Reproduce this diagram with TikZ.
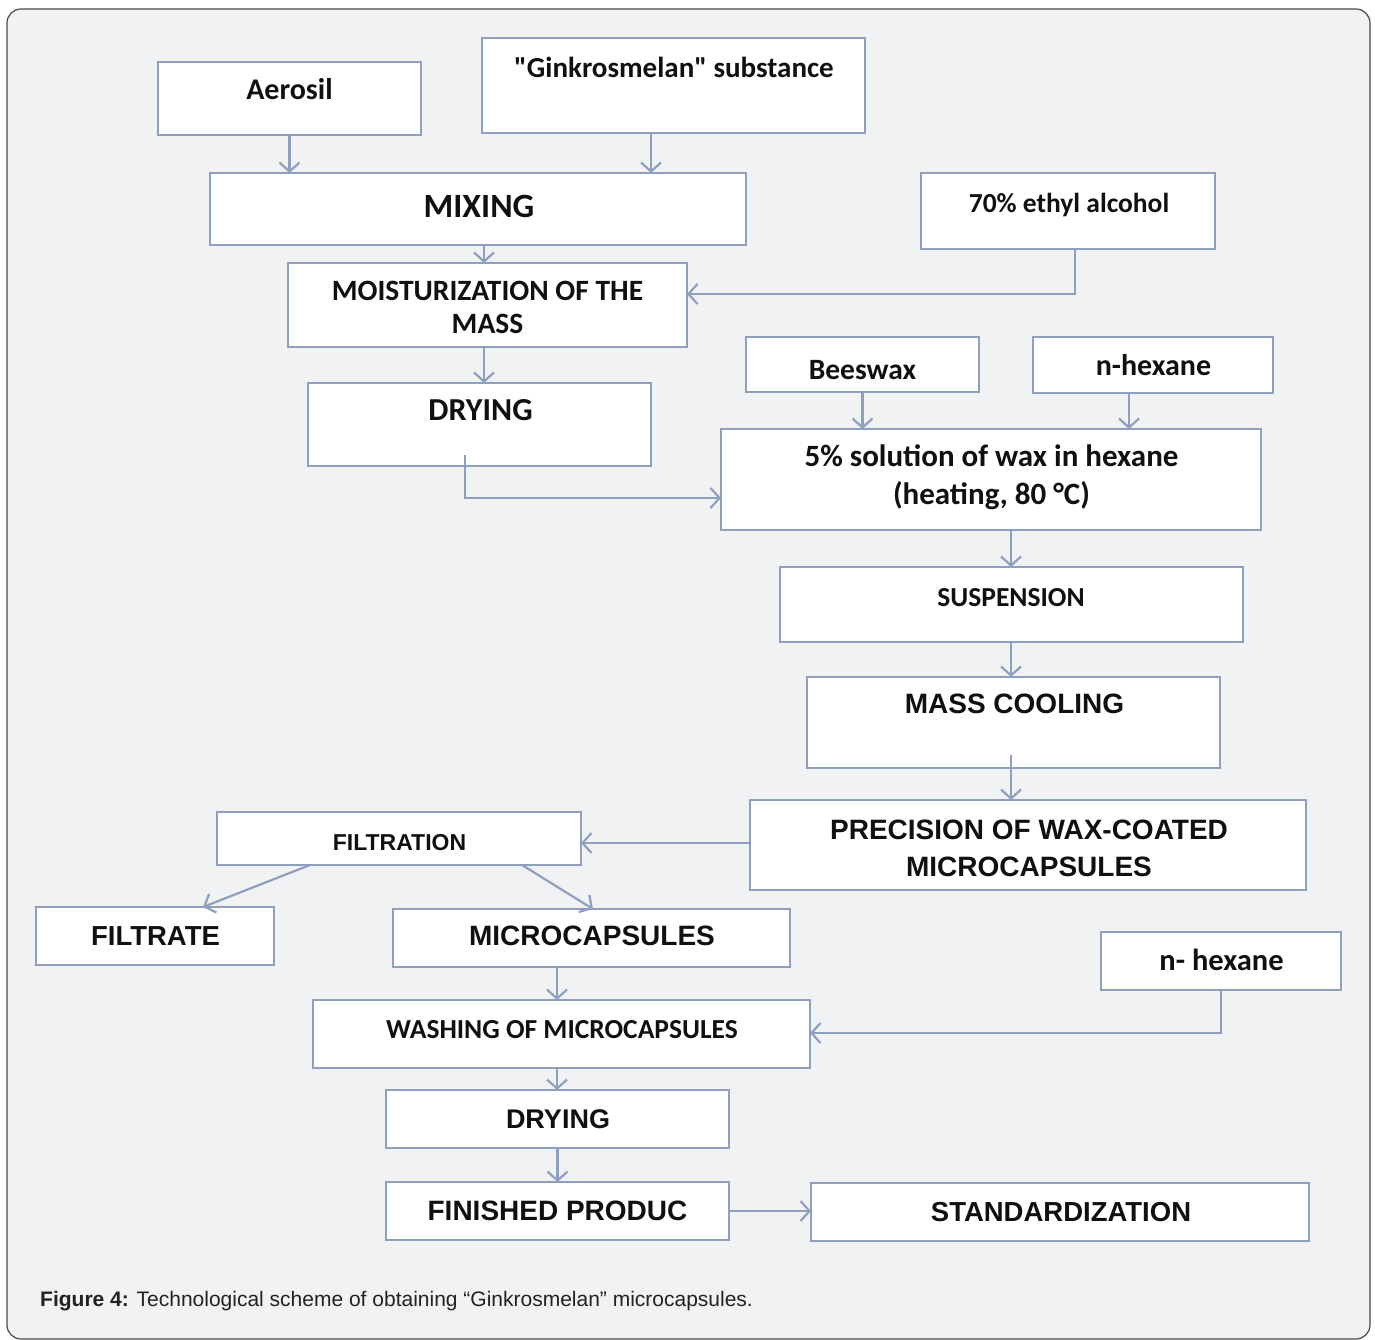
\documentclass[tikz,border=0pt]{standalone}
\usepackage{fontspec}
\setmainfont{Carlito}[Ligatures=TeXOff]
\newfontfamily\arialf{Liberation Sans}
\usetikzlibrary{arrows.meta,fit}
\definecolor{bcol}{HTML}{8FA0BF}
\definecolor{bgcol}{HTML}{F1F2F4}
\definecolor{framecol}{HTML}{4A4A4A}
\definecolor{txtcol}{HTML}{101010}
\definecolor{capcol}{HTML}{222222}
\newcommand\cf[1]{\fontsize{#1}{#1}\selectfont\bfseries}
\newcommand\af[1]{\arialf\fontsize{#1}{#1}\selectfont\bfseries}
\tikzset{
  box/.style={draw=bcol, line width=2.2pt, fill=white, inner sep=0pt, outer sep=0pt},
  arr/.style={draw=bcol, line width=2.2pt, -{Straight Barb[length=9pt,width=20pt,line width=2.2pt]}},
  tx/.style={anchor=base, inner sep=0pt, text=txtcol, align=center},
}
\begin{document}
\begin{tikzpicture}[x=1pt,y=-1pt]
\useasboundingbox (0,0) rectangle (1375,1340);
\fill[white] (0,0) rectangle (1375,1340);
\draw[framecol, line width=1.2pt, fill=bgcol, rounded corners=14pt] (7,9) rectangle (1370,1339);

% boxes
\node[box, fit={(158,62) (421,135)}] (aer) {};
\node[box, fit={(482,38) (865,133)}] (gink) {};
\node[box, fit={(210,173) (746,245)}] (mix) {};
\node[box, fit={(921,173) (1215,249)}] (alc) {};
\node[box, fit={(288,263) (687,347)}] (moist) {};
\node[box, fit={(308,383) (651,466)}] (dry1) {};
\node[box, fit={(746,337) (979,392)}] (bees) {};
\node[box, fit={(1033,337) (1273,393)}] (hex1) {};
\node[box, fit={(721,429) (1261,530)}] (sol) {};
\node[box, fit={(780,567) (1243,642)}] (susp) {};
\node[box, fit={(807,677) (1220,768)}] (cool) {};
\node[box, fit={(750,800) (1306,890)}] (prec) {};
\node[box, fit={(217,812) (581,865)}] (filt) {};
\node[box, fit={(36,907) (274,965)}] (filtr) {};
\node[box, fit={(393,909) (790,967)}] (micro) {};
\node[box, fit={(1101,932) (1341,990)}] (hex2) {};
\node[box, fit={(313,1000) (810,1068)}] (wash) {};
\node[box, fit={(386,1090) (729,1148)}] (dry2) {};
\node[box, fit={(386,1182) (729,1240)}] (fin) {};
\node[box, fit={(811,1183) (1309,1241)}] (std) {};

% texts
\node[tx, font=\cf{30}] (aer-t) at (289.5,100) {Aerosil};
\node[tx, font=\cf{29}] (gink-t) at (674,78) {"Ginkrosmelan" substance};
\node[tx, font=\cf{34}] (mix-t) at (479,218) {MIXING};
\node[tx, font=\cf{27.5}] (alc-t) at (1069,213) {70\% ethyl alcohol};
\node[tx, font=\cf{29.5}] (moist-t1) at (487.5,300) {MOISTURIZATION OF THE};
\node[tx, font=\cf{29.5}] (moist-t2) at (487.5,333) {MASS};
\node[tx, font=\cf{32}] (dry1-t) at (480.5,420) {DRYING};
\node[tx, font=\cf{29.5}] (bees-t) at (862.5,379) {Beeswax};
\node[tx, font=\cf{30}] (hex1-t) at (1153.5,375) {n-hexane};
\node[tx, font=\cf{31}] (sol-t1) at (991.5,466) {5\% solution of wax in hexane};
\node[tx, font=\cf{31}] (sol-t2) at (991.5,504) {(heating, 80 °C)};
\node[tx, font=\cf{27.5}] (susp-t) at (1011,606) {SUSPENSION};
\node[tx, font=\af{28}] (cool-t) at (1014.5,713) {MASS COOLING};
\node[tx, font=\af{28}] (prec-t1) at (1029,839) {PRECISION OF WAX-COATED};
\node[tx, font=\af{28}] (prec-t2) at (1029,876) {MICROCAPSULES};
\node[tx, font=\af{23}] (filt-t) at (399.5,850) {FILTRATION};
\node[tx, font=\af{27.5}] (filtr-t) at (155.5,945) {FILTRATE};
\node[tx, font=\af{28}] (micro-t) at (592,945) {MICROCAPSULES};
\node[tx, font=\cf{30.5}] (hex2-t) at (1221.5,970) {n- hexane};
\node[tx, font=\cf{27.5}] (wash-t) at (562,1038) {WASHING OF MICROCAPSULES};
\node[tx, font=\af{27}] (dry2-t) at (558,1128) {DRYING};
\node[tx, font=\af{28}] (fin-t) at (557.5,1220) {FINISHED PRODUC};
\node[tx, font=\af{27.5}] (std-t) at (1061,1221) {STANDARDIZATION};

% helper coordinates
\coordinate (xg) at (651,0);
\coordinate (xm) at (484,0);
\coordinate (xa) at (1075,0);
\coordinate (ya) at (0,294);
\coordinate (d1s) at (465,455);
\coordinate (yd) at (0,498);
\coordinate (xh) at (1129,0);
\coordinate (xs) at (1011,0);
\coordinate (cs) at (1011,755);
\coordinate (yf) at (0,843);
\coordinate (xf1) at (310,0);
\coordinate (xf2) at (203,0);
\coordinate (xf3) at (522,0);
\coordinate (xf4) at (593,0);
\coordinate (xw) at (557,0);
\coordinate (yw) at (0,1033);

% connectors
\draw[arr] (aer.south) -- (aer.south |- mix.north);
\draw[arr] (gink.south -| xg) -- (mix.north -| xg);
\draw[arr] (mix.south -| xm) -- (moist.north -| xm);
\draw[arr] (alc.south -| xa) |- (moist.east |- ya);
\draw[arr] (moist.south -| xm) -- (dry1.north -| xm);
\draw[arr] (d1s) |- (sol.west |- yd);
\draw[arr] (bees.south) -- (bees.south |- sol.north);
\draw[arr] (hex1.south -| xh) -- (sol.north -| xh);
\draw[arr] (sol.south -| xs) -- (susp.north -| xs);
\draw[arr] (susp.south -| xs) -- (cool.north -| xs);
\draw[arr] (cs) -- (prec.north -| xs);
\draw[arr] (prec.west |- yf) -- (filt.east |- yf);
\draw[arr] (filt.south -| xf1) -- (filtr.north -| xf2);
\draw[arr] (filt.south -| xf3) -- (micro.north -| xf4);
\draw[arr] (micro.south -| xw) -- (wash.north -| xw);
\draw[arr] (hex2.south) |- (wash.east |- yw);
\draw[arr] (wash.south -| xw) -- (dry2.north -| xw);
\draw[arr] (dry2.south) -- (fin.north);
\draw[arr] (fin.east) -- (fin.east -| std.west);

% caption
\node[anchor=base west, inner sep=0pt, text=capcol, font=\arialf\fontsize{21}{21}\selectfont] (cap) at (40,1306) {\textbf{Figure 4:} Technological scheme of obtaining “Ginkrosmelan” microcapsules.};
\end{tikzpicture}
\end{document}
